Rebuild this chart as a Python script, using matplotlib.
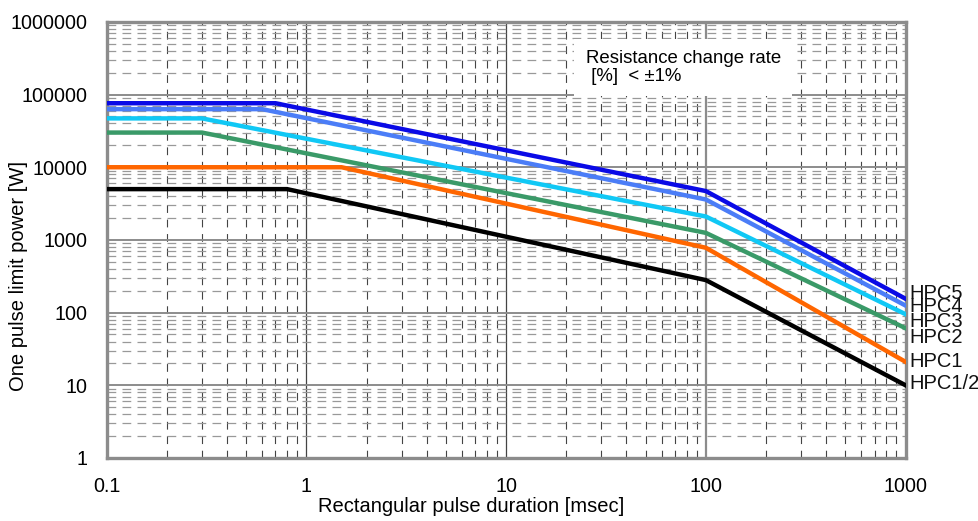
import numpy as np
import matplotlib
matplotlib.use("Agg")
import matplotlib.pyplot as plt
from matplotlib.ticker import FixedLocator, FuncFormatter, LogLocator, NullFormatter

plt.rcParams["font.family"] = ["Liberation Sans", "DejaVu Sans"]

# ── Data ────────────────────────────────────
series_names = ["HPC5", "HPC4", "HPC3", "HPC2", "HPC1", "HPC1/2"]
duration_ms = {
    "HPC5":   [0.1, 0.7, 100, 1000],
    "HPC4":   [0.1, 0.6, 100, 1000],
    "HPC3":   [0.1, 0.3, 100, 1000],
    "HPC2":   [0.1, 0.3, 100, 1000],
    "HPC1":   [0.1, 1.5, 100, 1000],
    "HPC1/2": [0.1, 0.8, 100, 1000],
}
power_w = {
    "HPC5":   [76000, 76000, 4700, 155],
    "HPC4":   [63000, 63000, 3600, 125],
    "HPC3":   [47000, 47000, 2100, 95],
    "HPC2":   [30000, 30000, 1250, 61],
    "HPC1":   [10000, 10000, 780, 21],
    "HPC1/2": [5000, 5000, 280, 10],
}
colors = {
    "HPC5":   "#0a0ae6",
    "HPC4":   "#4b7df7",
    "HPC3":   "#10c8f5",
    "HPC2":   "#3a9a68",
    "HPC1":   "#ff6600",
    "HPC1/2": "#000000",
}
label_y = [186, 120, 75, 45, 21, 10.5]

x_ticks = [0.1, 1, 10, 100, 1000]
y_ticks = [1, 10, 100, 1000, 10000, 100000, 1000000]

GRID_COLOR = "#8c8c8c"

fig = plt.figure(figsize=(9.79, 5.21), dpi=100, facecolor="white")
ax = fig.add_axes([0.109, 0.121, 0.816, 0.837])
ax.set_xscale("log")
ax.set_yscale("log")
ax.set_xlim(0.1, 1000)
ax.set_ylim(1, 1000000)

ax.xaxis.set_major_locator(FixedLocator(x_ticks))
ax.yaxis.set_major_locator(FixedLocator(y_ticks))
ax.xaxis.set_minor_locator(LogLocator(base=10, subs=np.arange(2, 10)))
ax.yaxis.set_minor_locator(LogLocator(base=10, subs=np.arange(2, 10)))
ax.xaxis.set_minor_formatter(NullFormatter())
ax.yaxis.set_minor_formatter(NullFormatter())
ax.xaxis.set_major_formatter(FuncFormatter(lambda v, p: f"{v:g}"))
ax.yaxis.set_major_formatter(FuncFormatter(lambda v, p: f"{int(v)}"))

# grid: horizontal gray majors, dashed minors; vertical majors drawn by hand
ax.yaxis.grid(True, which="major", color=GRID_COLOR, linewidth=1.4, linestyle="-")
ax.yaxis.grid(True, which="minor", color="#999999", linewidth=0.9, linestyle=(0, (7, 5)))
ax.xaxis.grid(True, which="minor", color="#444444", linewidth=0.8, linestyle=(0, (7, 6)))
for xv in [1, 10]:
    ax.axvline(xv, color="#444444", linewidth=0.9, zorder=0.5)
ax.axvline(100, color=GRID_COLOR, linewidth=1.6, zorder=0.5)
ax.set_axisbelow(True)

ax.tick_params(which="both", length=0, labelsize=14.2)
ax.tick_params(axis="x", pad=14)
ax.tick_params(axis="y", pad=14)
for spine in ax.spines.values():
    spine.set_edgecolor("#8c8c8c")
    spine.set_linewidth(2.4)

for name in series_names:
    ax.plot(duration_ms[name], power_w[name], color=colors[name],
            linewidth=3.2, solid_joinstyle="miter", zorder=3)

for name, ly in zip(series_names, label_y):
    ax.text(1040, ly, name, fontsize=14.5, va="center", ha="left",
            color="#111111", clip_on=False)

ax.text(25, 235000, "Resistance change rate\n [%]  < \u00b11%", fontsize=13.4,
        va="center", ha="left", linespacing=1.05, zorder=4,
        bbox=dict(facecolor="white", edgecolor="none", boxstyle="square,pad=0.6"))

ax.set_xlabel("Rectangular pulse duration [msec]", fontsize=14.5)
ax.xaxis.set_label_coords(0.456, -0.09)
ax.set_ylabel("One pulse limit power [W]", fontsize=14.5)
ax.yaxis.set_label_coords(-0.099, 0.417)

plt.savefig("out.png", dpi=100, facecolor="white")
plt.close()
